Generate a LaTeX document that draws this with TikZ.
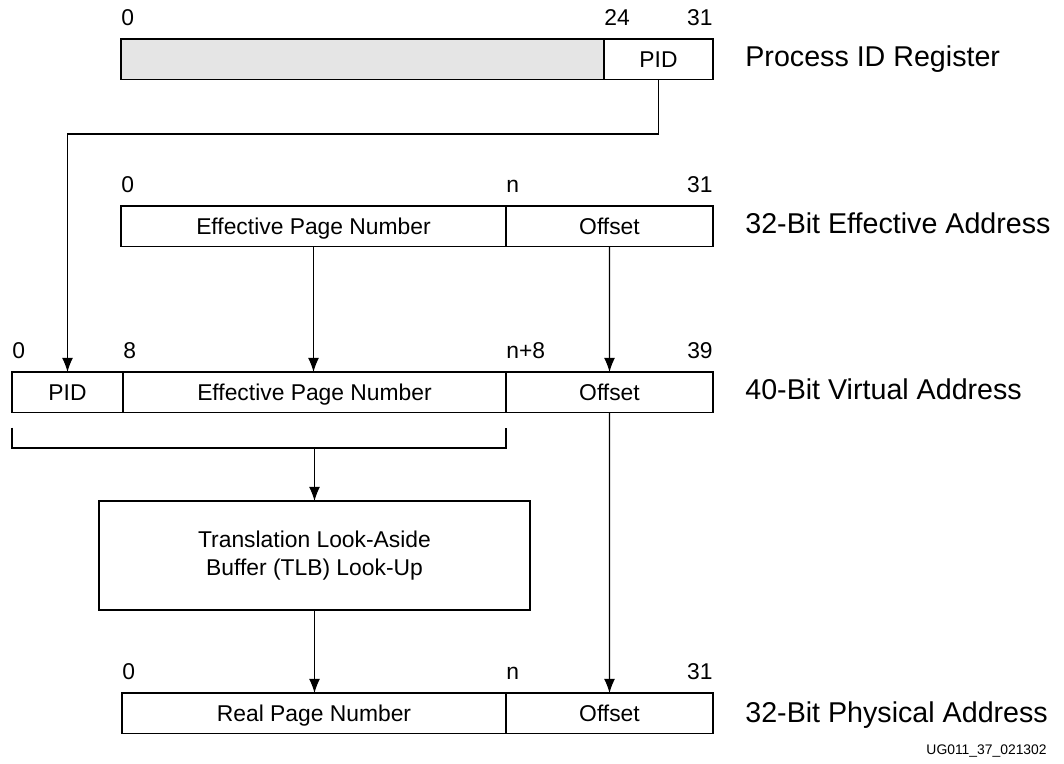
\documentclass[tikz,border=0pt]{standalone}
\usepackage{fontspec}
\setmainfont{Liberation Sans}
\usetikzlibrary{positioning,arrows.meta}

\tikzset{
	field/.style={draw, line width=1.1pt, anchor=north west, inner sep=0pt, outer sep=0pt,
		minimum height=0.81cm, text height=9.3pt, text depth=0pt,
		font=\fontsize{13}{16}\selectfont},
	bitno/.style={inner sep=0pt, font=\fontsize{13}{16}\selectfont},
	regname/.style={anchor=base west, inner sep=0pt, font=\fontsize{16.3}{19}\selectfont},
	link/.style={line width=0.6pt},
	arr/.style={link, -{Latex[length=8pt, width=6.2pt]}}
}

\begin{document}
\begin{tikzpicture}
	\useasboundingbox (0,0) rectangle (21.28,-15.28);

	% process ID register
	\node[field, fill=gray!20, minimum width=9.66cm] (regfree) at (2.42,-0.78) {};
	\node[field, minimum width=2.18cm, right=0pt of regfree] (regpid) {PID};
	\node[bitno, above right=0.26cm and 0pt of regfree.north west] (regb0) {0};
	\node[bitno, above right=0.26cm and 0pt of regpid.north west] (regb24) {24};
	\node[bitno, above left=0.26cm and 0pt of regpid.north east] (regb31) {31};
	\node[regname] (regtxt) at (14.90,-1.34) {Process ID Register};

	% effective address
	\node[field, minimum width=7.70cm] (eepn) at (2.42,-4.12) {Effective Page Number};
	\node[field, minimum width=4.14cm, right=0pt of eepn] (eoff) {Offset};
	\node[bitno, above right=0.26cm and 0pt of eepn.north west] (eb0) {0};
	\node[bitno, above right=0.26cm and 0pt of eoff.north west] (ebn) {n};
	\node[bitno, above left=0.26cm and 0pt of eoff.north east] (eb31) {31};
	\node[regname] (etxt) at (14.90,-4.68) {32-Bit Effective Address};

	% virtual address
	\node[field, minimum width=2.22cm] (vpid) at (0.24,-7.44) {PID};
	\node[field, minimum width=7.66cm, right=0pt of vpid] (vepn) {Effective Page Number};
	\node[field, minimum width=4.14cm, right=0pt of vepn] (voff) {Offset};
	\node[bitno, above right=0.26cm and 0pt of vpid.north west] (vb0) {0};
	\node[bitno, above right=0.26cm and 0pt of vepn.north west] (vb8) {8};
	\node[bitno, above right=0.26cm and 0pt of voff.north west] (vbn) {n+8};
	\node[bitno, above left=0.26cm and 0pt of voff.north east] (vb39) {39};
	\node[regname] (vtxt) at (14.90,-8.00) {40-Bit Virtual Address};

	% TLB
	\node[draw, line width=1.1pt, anchor=north west, outer sep=0pt, minimum width=8.62cm, minimum height=2.18cm,
		align=center, font=\fontsize{13}{16}\selectfont] (tlb) at (1.98,-10.02)
		{Translation Look-Aside\\Buffer (TLB) Look-Up};

	% physical address
	\node[field, minimum width=7.68cm] (rpn) at (2.44,-13.86) {Real Page Number};
	\node[field, minimum width=4.14cm, right=0pt of rpn] (roff) {Offset};
	\node[bitno, above right=0.26cm and 0pt of rpn.north west] (rb0) {0};
	\node[bitno, above right=0.26cm and 0pt of roff.north west] (rbn) {n};
	\node[bitno, above left=0.26cm and 0pt of roff.north east] (rb31) {31};
	\node[regname] (rtxt) at (14.90,-14.44) {32-Bit Physical Address};

	\node[anchor=base east, inner sep=0pt, font=\fontsize{7.9}{9}\selectfont] (figid) at (20.94,-15.08) {UG011\_37\_021302};

	% connectors
	\coordinate (pidbus) at (0,-2.68);
	\draw[arr] (regpid.south) -- (regpid.south |- pidbus) -| (vpid.north);
	\draw[arr] (eepn.south) -- (eepn.south |- vepn.north);
	\draw[arr] (eoff.south) -- (voff.north);
	\draw[arr] (voff.south) -- (roff.north);

	\coordinate (brl) at ([yshift=-0.3cm]vpid.south west);
	\coordinate (brr) at ([yshift=-0.3cm]vepn.south east);
	\coordinate (brbase) at (0,-8.96);
	\draw[link] (brl) |- (brr |- brbase) -- (brr);
	\draw[arr] (tlb.north |- brbase) -- (tlb.north);
	\draw[arr] (tlb.south) -- (tlb.south |- rpn.north);
\end{tikzpicture}
\end{document}
